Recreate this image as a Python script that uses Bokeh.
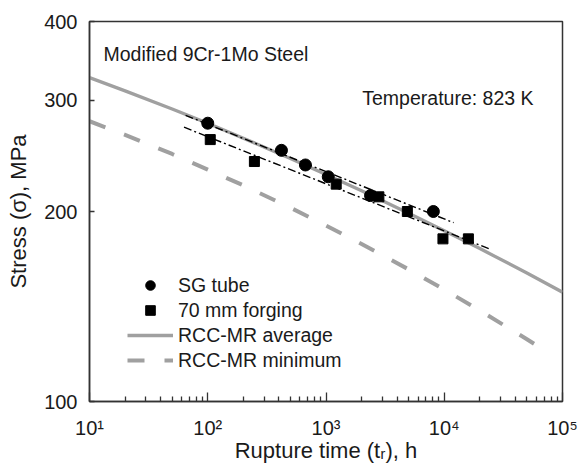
from bokeh.plotting import figure
from bokeh.models import FixedTicker, Legend, LegendItem, Label
from bokeh.embed import file_html
from bokeh.resources import INLINE

# ---- data ----
sg_t = [100, 420, 670, 1045, 2380, 8090]
sg_s = [276, 250, 237, 227, 212, 200]

fg_t = [105, 248, 1220, 2800, 4875, 9750, 16000]
fg_s = [260, 240, 221, 211, 200, 181, 181]

avg_t = [10, 20, 50, 100, 200, 500, 1000, 2000, 5000, 10000, 20000, 50000, 100000]
avg_s = [326, 310.6, 290.7, 276, 261.3, 242.7, 229, 215.7, 198.8, 186.5, 174.7, 159.8, 149]

min_t = [10, 20, 50, 100, 200, 500, 1000, 2000, 5000, 10000, 20000, 50000, 78000]
min_s = [278, 264.5, 246.7, 233, 220, 202.8, 190, 177.7, 161.9, 150.4, 139.4, 125.5, 119]

fit_sg_t = [65, 12000]
fit_sg_s = [284, 192]
fit_fg_t = [63, 25000]
fit_fg_s = [272, 174]

x_ticks = [10, 100, 1000, 10000, 100000]
x_tick_labels = ["10\u00b9", "10\u00b2", "10\u00b3", "10\u2074", "10\u2075"]
y_ticks = [100, 200, 300, 400]
y_tick_labels = ["100", "200", "300", "400"]

FONT = "Liberation Sans"
TXT = "#1a1a1a"
FRAME = "#333333"
GRAY = "#a0a0a0"

p = figure(width=578, height=465, x_axis_type="log", y_axis_type="log",
           x_range=(10, 100000), y_range=(100, 400),
           output_backend="svg", toolbar_location=None,
           min_border_left=89, min_border_right=16,
           min_border_top=21, min_border_bottom=63)
p.xgrid.visible = False
p.ygrid.visible = False
p.outline_line_color = FRAME
p.outline_line_width = 1.5
p.background_fill_color = "white"
p.border_fill_color = "white"

# x axis
minor = []
for d in [10, 100, 1000, 10000]:
    minor += [d * k for k in range(2, 10)]
p.xaxis.ticker = FixedTicker(ticks=x_ticks, minor_ticks=minor)
p.xaxis.major_label_overrides = {t: l for t, l in zip(x_ticks, x_tick_labels)}
p.xaxis.major_tick_in = 9
p.xaxis.major_tick_out = 0
p.xaxis.minor_tick_in = 5
p.xaxis.minor_tick_out = 0
p.xaxis.axis_label = "Rupture time (t\u1d63), h"
p.xaxis.major_label_standoff = 15
p.xaxis.axis_label_standoff = -4

# y axis
p.yaxis.ticker = FixedTicker(ticks=y_ticks, minor_ticks=[])
p.yaxis.major_label_overrides = {t: l for t, l in zip(y_ticks, y_tick_labels)}
p.yaxis.major_tick_in = 5
p.yaxis.major_tick_out = 0
p.yaxis.minor_tick_in = 0
p.yaxis.minor_tick_out = 0
p.yaxis.major_label_standoff = 12
p.yaxis.axis_label = "Stress (\u03c3), MPa"
p.yaxis.axis_label_standoff = 10

for ax in (p.xaxis, p.yaxis):
    ax.axis_line_color = FRAME
    ax.axis_line_width = 1.5
    ax.major_tick_line_color = FRAME
    ax.minor_tick_line_color = FRAME
    ax.major_tick_line_width = 1.3
    ax.minor_tick_line_width = 1.3
    ax.major_label_text_font = FONT
    ax.major_label_text_font_size = "20px"
    ax.major_label_text_color = TXT
    ax.axis_label_text_font = FONT
    ax.axis_label_text_font_size = "22px"
    ax.axis_label_text_font_style = "normal"
    ax.axis_label_text_color = TXT

# lines
r_avg = p.line(avg_t, avg_s, line_color=GRAY, line_width=3.3)
r_min = p.line(min_t, min_s, line_color=GRAY, line_width=4, line_dash="17 20")
p.line(fit_sg_t, fit_sg_s, line_color="black", line_width=1.4, line_dash="8 3 2 3")
p.line(fit_fg_t, fit_fg_s, line_color="black", line_width=1.4, line_dash="8 3 2 3")

# markers
r_sg = p.scatter(sg_t, sg_s, marker="circle", size=12, fill_color="black", line_color="black")
r_fg = p.scatter(fg_t, fg_s, marker="square", size=10, fill_color="black", line_color="black")

legend = Legend(items=[
    LegendItem(label="SG tube", renderers=[r_sg]),
    LegendItem(label="70 mm forging", renderers=[r_fg]),
    LegendItem(label="RCC-MR average", renderers=[r_avg]),
    LegendItem(label="RCC-MR minimum", renderers=[r_min]),
], location=(38, 29))
legend.border_line_alpha = 0
legend.background_fill_alpha = 0
legend.padding = 0
legend.margin = 0
legend.spacing = 1
legend.glyph_width = 46
legend.glyph_height = 24
legend.label_height = 24
legend.label_standoff = 5
legend.label_text_font = FONT
legend.label_text_font_size = "19.5px"
legend.label_text_color = TXT
p.add_layout(legend)

p.add_layout(Label(x=13.14, y=355.7, text="Modified 9Cr-1Mo Steel",
                   text_font=FONT, text_font_size="19.5px", text_color=TXT,
                   text_baseline="alphabetic"))
p.add_layout(Label(x=2026, y=302.4, text="Temperature: 823 K",
                   text_font=FONT, text_font_size="19.5px", text_color=TXT,
                   text_baseline="alphabetic"))

open("out.html", "w").write(file_html(p, INLINE))
